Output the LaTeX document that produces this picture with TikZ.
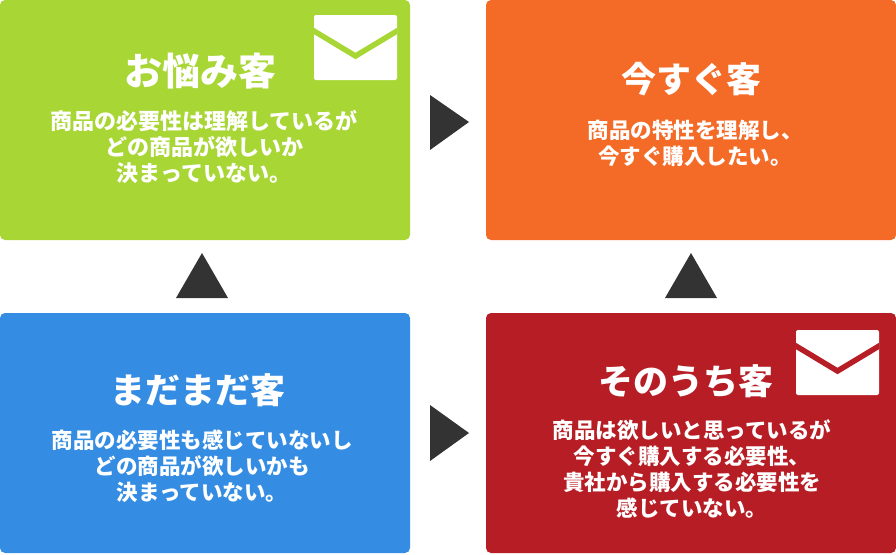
\documentclass[tikz,border=0pt]{standalone}
\usepackage{fontspec}
\setmainfont{Noto Sans CJK JP Black}
\definecolor{leafgreen}{HTML}{A8D635}
\definecolor{hotorange}{HTML}{F46B27}
\definecolor{skyblue}{HTML}{358DE3}
\definecolor{deepred}{HTML}{B61D24}
\definecolor{pointer}{HTML}{333333}
\tikzset{
    card/.style={rounded corners=5},
    title/.style={text=white, font=\fontsize{35}{35}\selectfont, inner sep=0pt},
    body/.style={text=white, font=\fontsize{21.5}{26}\selectfont, align=center, inner sep=0pt}
}
% Envelope: upper left corner, colour of the fold
\newcommand{\envelope}[3]{
    \fill[white, rounded corners=2] (#1,#2) rectangle ++(83,65);
    \begin{scope}
        \clip (#1,#2) rectangle ++(83,65);
        \draw[#3, line width=5.5] (#1-5,#2+13) -- (#1+41.5,#2+41) -- (#1+88,#2+13);
    \end{scope}
}
\begin{document}
\begin{tikzpicture}[x=1pt, y=-1pt]
    \useasboundingbox (0,0) rectangle (896,554);

    % Top left
    \fill[card, leafgreen] (0,0) rectangle (410,240);
    \envelope{314}{15}{leafgreen}
    \node[title, font=\fontsize{38}{38}\selectfont] (nayami) at (200,71) {お悩み客};
    \node[body, font=\fontsize{22}{26}\selectfont] (nayamitext) at (204,147) {商品の必要性は理解しているが\\どの商品が欲しいか\\決まっていない。};

    % Top right
    \fill[card, hotorange] (486,0) rectangle (896,240);
    \node[title] (imasugu) at (691,79) {今すぐ客};
    \node[body] (imasugutext) at (695,143) {商品の特性を理解し、\\今すぐ購入したい。};

    % Bottom left
    \fill[card, skyblue] (0,313) rectangle (410,553);
    \node[title] (madamada) at (198,390) {まだまだ客};
    \node[body] (madamadatext) at (202,466) {商品の必要性も感じていないし\\どの商品が欲しいかも\\決まっていない。};

    % Bottom right
    \fill[card, deepred] (486,313) rectangle (896,553);
    \envelope{796}{330}{deepred}
    \node[title] (sonouchi) at (686,381) {そのうち客};
    \node[body] (sonouchitext) at (692,469) {商品は欲しいと思っているが\\今すぐ購入する必要性、\\貴社から購入する必要性を\\感じていない。};

    % Pointers between the cards
    \fill[pointer] (430,95) -- (469,122) -- (430,150) -- cycle;
    \fill[pointer] (430,405) -- (469,433) -- (430,461) -- cycle;
    \fill[pointer] (176,298) -- (202,253) -- (228,298) -- cycle;
    \fill[pointer] (665,298) -- (691,253) -- (717,298) -- cycle;
\end{tikzpicture}
\end{document}
